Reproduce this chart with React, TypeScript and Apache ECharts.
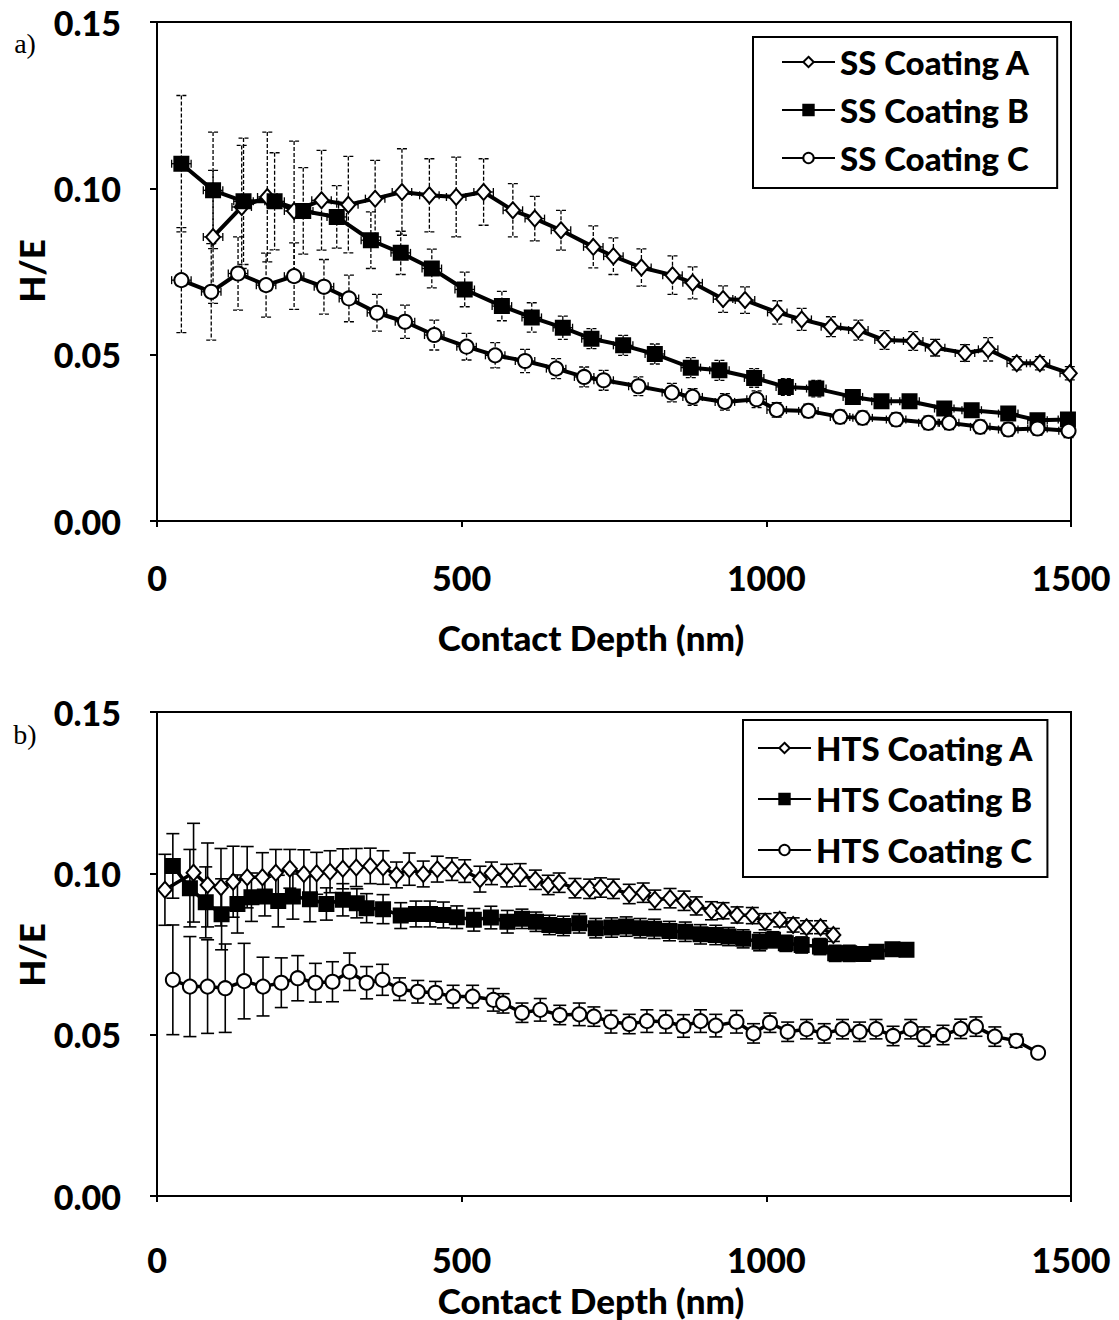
import React, { useEffect, useRef } from "react";
import * as echarts from "echarts";

// ---------- Panel a) SS coatings ----------
const SS_A_X = [92, 139, 181, 225, 270, 314, 358, 402, 447, 491, 536, 584, 620, 663, 716, 749, 795, 846, 879, 929, 965, 1018, 1058, 1106, 1151, 1194, 1241, 1277, 1326, 1364, 1411, 1449, 1498];
const SS_A_Y = [0.0854, 0.0944, 0.0974, 0.0932, 0.0964, 0.0951, 0.0969, 0.0989, 0.0979, 0.0974, 0.0989, 0.0934, 0.0909, 0.0874, 0.0824, 0.0796, 0.0762, 0.0739, 0.0716, 0.0667, 0.0664, 0.0627, 0.0606, 0.0584, 0.0574, 0.0544, 0.0541, 0.0521, 0.0505, 0.0516, 0.0474, 0.0474, 0.0444];
const SS_A_ERR = [0.020, 0.0185, 0.0195, 0.021, 0.015, 0.0145, 0.0115, 0.013, 0.011, 0.012, 0.010, 0.008, 0.0067, 0.006, 0.0063, 0.0055, 0.0056, 0.0058, 0.0048, 0.004, 0.004, 0.0035, 0.0033, 0.003, 0.003, 0.0028, 0.0028, 0.0025, 0.0025, 0.0035, 0.002, 0.002, 0.002];

const SS_B_X = [40, 92, 142, 193, 240, 295, 351, 400, 451, 505, 566, 615, 666, 713, 765, 817, 876, 923, 980, 1032, 1082, 1142, 1189, 1235, 1292, 1337, 1397, 1445, 1495];
const SS_B_Y = [0.1074, 0.0994, 0.0961, 0.0961, 0.0932, 0.0914, 0.0844, 0.0806, 0.0759, 0.0696, 0.0646, 0.0612, 0.0581, 0.0548, 0.0528, 0.0502, 0.0461, 0.0453, 0.0430, 0.0403, 0.0398, 0.0373, 0.0360, 0.0360, 0.0338, 0.0333, 0.0323, 0.0303, 0.0305];
const SS_B_ERR = [0.0205, 0.0175, 0.019, 0.0146, 0.013, 0.0094, 0.0085, 0.0065, 0.0058, 0.0052, 0.0044, 0.0044, 0.0035, 0.003, 0.003, 0.003, 0.003, 0.003, 0.0028, 0.0025, 0.0025, 0.0022, 0.002, 0.002, 0.002, 0.002, 0.002, 0.002, 0.002];

const SS_C_X = [40, 89, 133, 179, 225, 274, 315, 361, 407, 455, 508, 555, 604, 655, 701, 733, 790, 845, 879, 932, 984, 1017, 1069, 1121, 1158, 1213, 1266, 1300, 1351, 1397, 1445, 1496];
const SS_C_Y = [0.0724, 0.0689, 0.0744, 0.0709, 0.0736, 0.0704, 0.0669, 0.0626, 0.0599, 0.0559, 0.0524, 0.0498, 0.0481, 0.0458, 0.0433, 0.0423, 0.0405, 0.0386, 0.0373, 0.0358, 0.0366, 0.0334, 0.0331, 0.0313, 0.0310, 0.0305, 0.0295, 0.0295, 0.0283, 0.0275, 0.0278, 0.0271];
const SS_C_ERR = [0.0158, 0.0145, 0.011, 0.0096, 0.010, 0.0082, 0.007, 0.0055, 0.005, 0.0045, 0.004, 0.0038, 0.0035, 0.003, 0.003, 0.003, 0.0028, 0.0028, 0.0025, 0.0025, 0.0025, 0.0022, 0.002, 0.002, 0.002, 0.002, 0.002, 0.002, 0.002, 0.002, 0.002, 0.002];

const SS_X_ERR = 16; // nm, horizontal error bars in panel a)

// ---------- Panel b) HTS coatings ----------
const HTS_A_X = [13, 60, 83, 105, 125, 148, 173, 195, 218, 241, 262, 284, 305, 327, 350, 371, 393, 414, 437, 460, 484, 505, 530, 549, 574, 596, 621, 642, 660, 686, 710, 728, 749, 775, 798, 817, 842, 865, 885, 910, 929, 952, 977, 998, 1022, 1044, 1066, 1089, 1110];
const HTS_A_Y = [0.0949, 0.1002, 0.0964, 0.0957, 0.0974, 0.0988, 0.0988, 0.1002, 0.1014, 0.0998, 0.1000, 0.1005, 0.1014, 0.1018, 0.1023, 0.1018, 0.0995, 0.1013, 0.0998, 0.1013, 0.1013, 0.1007, 0.0982, 0.1000, 0.0993, 0.0995, 0.0980, 0.0964, 0.0971, 0.0954, 0.0952, 0.0956, 0.0952, 0.0936, 0.0940, 0.0918, 0.0923, 0.0915, 0.0899, 0.0884, 0.0884, 0.0871, 0.0869, 0.0850, 0.0856, 0.0840, 0.0833, 0.0833, 0.0809];
const HTS_A_ERR = [0.011, 0.0153, 0.013, 0.012, 0.011, 0.0095, 0.0076, 0.0072, 0.006, 0.0075, 0.0065, 0.0065, 0.0062, 0.0059, 0.0055, 0.0052, 0.004, 0.005, 0.004, 0.004, 0.0035, 0.0035, 0.004, 0.0035, 0.0035, 0.0035, 0.003, 0.003, 0.003, 0.003, 0.003, 0.003, 0.003, 0.003, 0.003, 0.003, 0.003, 0.003, 0.0028, 0.0028, 0.0025, 0.0025, 0.0025, 0.0025, 0.0022, 0.0022, 0.002, 0.002, 0.002];

const HTS_B_X = [26, 54, 80, 106, 132, 155, 177, 199, 223, 251, 278, 305, 328, 344, 371, 400, 425, 448, 470, 492, 520, 548, 575, 599, 622, 644, 667, 693, 720, 746, 770, 793, 816, 841, 867, 892, 917, 938, 962, 989, 1011, 1032, 1058, 1088, 1113, 1136, 1159, 1181, 1207, 1230];
const HTS_B_Y = [0.1023, 0.0954, 0.0910, 0.0873, 0.0905, 0.0926, 0.0928, 0.0914, 0.0928, 0.0920, 0.0905, 0.0918, 0.0907, 0.0892, 0.0889, 0.0869, 0.0874, 0.0874, 0.0871, 0.0864, 0.0856, 0.0863, 0.0850, 0.0859, 0.0850, 0.0840, 0.0837, 0.0845, 0.0830, 0.0832, 0.0835, 0.0830, 0.0828, 0.0821, 0.0819, 0.0811, 0.0809, 0.0804, 0.0797, 0.0788, 0.0794, 0.0783, 0.0778, 0.0773, 0.0752, 0.0752, 0.0750, 0.0757, 0.0765, 0.0763];
const HTS_B_ERR = [0.010, 0.012, 0.011, 0.011, 0.009, 0.0075, 0.006, 0.008, 0.007, 0.007, 0.005, 0.005, 0.0045, 0.0045, 0.0045, 0.004, 0.004, 0.004, 0.004, 0.0035, 0.0035, 0.0035, 0.0035, 0.003, 0.003, 0.003, 0.003, 0.003, 0.003, 0.003, 0.003, 0.003, 0.003, 0.003, 0.003, 0.003, 0.003, 0.0028, 0.0028, 0.0028, 0.0025, 0.0025, 0.0025, 0.0025, 0.0025, 0.0025, 0.0022, 0.002, 0.002, 0.002];

const HTS_C_X = [26, 54, 83, 112, 143, 174, 204, 231, 260, 288, 316, 344, 370, 398, 428, 457, 486, 518, 552, 568, 599, 629, 661, 693, 717, 745, 775, 804, 835, 864, 892, 917, 951, 979, 1006, 1035, 1066, 1095, 1125, 1153, 1180, 1208, 1237, 1259, 1290, 1319, 1344, 1375, 1410, 1446];
const HTS_C_Y = [0.0670, 0.0649, 0.0649, 0.0644, 0.0666, 0.0649, 0.0661, 0.0675, 0.0661, 0.0664, 0.0695, 0.0661, 0.0670, 0.0641, 0.0633, 0.0630, 0.0618, 0.0618, 0.0608, 0.0597, 0.0568, 0.0577, 0.0561, 0.0563, 0.0556, 0.0540, 0.0533, 0.0542, 0.0540, 0.0527, 0.0542, 0.0528, 0.0540, 0.0504, 0.0537, 0.0509, 0.0517, 0.0504, 0.0517, 0.0509, 0.0517, 0.0496, 0.0517, 0.0494, 0.0499, 0.0518, 0.0525, 0.0494, 0.0481, 0.0444];
const HTS_C_ERR = [0.017, 0.0155, 0.0145, 0.0137, 0.0117, 0.0091, 0.0077, 0.007, 0.006, 0.0062, 0.0058, 0.005, 0.0048, 0.0035, 0.0035, 0.0035, 0.0035, 0.0035, 0.0035, 0.003, 0.003, 0.0035, 0.003, 0.0035, 0.003, 0.0035, 0.003, 0.0035, 0.0035, 0.0035, 0.0035, 0.0035, 0.0035, 0.003, 0.003, 0.003, 0.003, 0.003, 0.003, 0.003, 0.003, 0.003, 0.003, 0.003, 0.003, 0.003, 0.003, 0.003, 0.002, 0];

// ---------- Axes ----------
const X_MIN = 0, X_MAX = 1500, X_STEP = 500;
const Y_MIN = 0, Y_MAX = 0.15, Y_STEP = 0.05;
const X_TITLE = "Contact Depth (nm)";
const Y_TITLE = "H/E";
const PANEL_LABELS = ["a)", "b)"];
const SS_NAMES = ["SS Coating A", "SS Coating B", "SS Coating C"];
const HTS_NAMES = ["HTS Coating A", "HTS Coating B", "HTS Coating C"];

const FONT = "Lato";
const TICK_SIZE = 34;
const TITLE_SIZE = 35;
const LEGEND_SIZE = 33;

function lineSeries(name: string, gi: number, xs: number[], ys: number[], symbol: string, size: any, fill: string, lw: number) {
  return {
    name,
    type: "line",
    xAxisIndex: gi,
    yAxisIndex: gi,
    data: xs.map((x, i) => [x, ys[i]]),
    symbol,
    symbolSize: size,
    showSymbol: true,
    showAllSymbol: true,
    lineStyle: { color: "#000", width: lw },
    itemStyle: { color: fill, borderColor: "#000", borderWidth: 2, opacity: 1 },
    emphasis: { disabled: true },
    z: 3,
  };
}

function errSeries(id: string, gi: number, xs: number[], ys: number[], errs: number[], dashed: boolean, xErr: number, capW: number, lw: number) {
  return {
    id,
    type: "custom",
    xAxisIndex: gi,
    yAxisIndex: gi,
    silent: true,
    z: 2,
    data: xs.map((x, i) => [x, ys[i], errs[i]]),
    encode: { x: 0, y: 1 },
    renderItem: (params: any, api: any) => {
      const x = api.value(0);
      const y = api.value(1);
      const e = api.value(2);
      const style: any = { stroke: "#000", lineWidth: lw, fill: null };
      if (dashed) style.lineDash = [4, 2];
      const children: any[] = [];
      if (e > 0) {
        const top = api.coord([x, y + e]);
        const bot = api.coord([x, y - e]);
        children.push({ type: "line", shape: { x1: top[0], y1: top[1], x2: bot[0], y2: bot[1] }, style });
        children.push({ type: "line", shape: { x1: top[0] - capW / 2, y1: top[1], x2: top[0] + capW / 2, y2: top[1] }, style });
        children.push({ type: "line", shape: { x1: bot[0] - capW / 2, y1: bot[1], x2: bot[0] + capW / 2, y2: bot[1] }, style });
      }
      if (xErr > 0) {
        const l = api.coord([Math.max(X_MIN, x - xErr), y]);
        const r = api.coord([Math.min(X_MAX, x + xErr), y]);
        const s2 = { stroke: "#000", lineWidth: 1.3, fill: null };
        children.push({ type: "line", shape: { x1: l[0], y1: l[1], x2: r[0], y2: r[1] }, style: s2 });
        children.push({ type: "line", shape: { x1: l[0], y1: l[1] - 4, x2: l[0], y2: l[1] + 4 }, style: s2 });
        children.push({ type: "line", shape: { x1: r[0], y1: r[1] - 4, x2: r[0], y2: r[1] + 4 }, style: s2 });
      }
      return { type: "group", children };
    },
  };
}

function xAxis(gi: number, margin: number) {
  return {
    type: "value",
    gridIndex: gi,
    min: X_MIN,
    max: X_MAX,
    interval: X_STEP,
    axisLine: { show: true, lineStyle: { color: "#000", width: 2 } },
    axisTick: { show: true, inside: false, length: 6, lineStyle: { color: "#000", width: 2 } },
    splitLine: { show: false },
    axisLabel: {
      margin,
      color: "#000",
      fontFamily: FONT,
      fontWeight: 900,
      fontSize: TICK_SIZE,
      lineHeight: TICK_SIZE,
      formatter: (v: number) => String(v),
    },
  };
}

function yAxis(gi: number) {
  return {
    type: "value",
    gridIndex: gi,
    min: Y_MIN,
    max: Y_MAX,
    interval: Y_STEP,
    axisLine: { show: true, lineStyle: { color: "#000", width: 2 } },
    axisTick: { show: true, inside: false, length: 7, lineStyle: { color: "#000", width: 2 } },
    splitLine: { show: false },
    axisLabel: {
      margin: 36,
      color: "#000",
      fontFamily: FONT,
      fontWeight: 900,
      fontSize: TICK_SIZE,
      formatter: (v: number) => v.toFixed(2),
    },
  };
}

function legend(names: string[], left: number, top: number, gap: number, padding: number[]) {
  return {
    data: names,
    orient: "vertical",
    left,
    top,
    itemWidth: 53,
    itemHeight: 13,
    itemGap: gap,
    padding,
    selectedMode: false,
    borderColor: "#000",
    borderWidth: 2,
    backgroundColor: "#fff",
    textStyle: { color: "#000", fontFamily: FONT, fontWeight: 900, fontSize: LEGEND_SIZE, lineHeight: 34 },
  };
}

export default function App() {
  const ref = useRef<HTMLDivElement>(null);
  useEffect(() => {
    if (!ref.current) return;
    const chart = echarts.init(ref.current, null, { renderer: "svg" });
    const titleFont = `900 ${TITLE_SIZE}px ${FONT}`;
    const panelFont = "28px 'Liberation Serif'";
    const option: any = {
      animation: false,
      backgroundColor: "#fff",
      grid: [
        { left: 157, top: 22, width: 914, height: 499, show: true, borderColor: "#000", borderWidth: 2, backgroundColor: "transparent" },
        { left: 157, top: 712, width: 914, height: 484, show: true, borderColor: "#000", borderWidth: 2, backgroundColor: "transparent" },
      ],
      xAxis: [xAxis(0, 39), xAxis(1, 46)],
      yAxis: [yAxis(0), yAxis(1)],
      legend: [
        legend(SS_NAMES, 753, 37, 14, [8, 27, 13, 28]),
        legend(HTS_NAMES, 743, 720, 17, [11, 14, 10, 14]),
      ],
      graphic: [
        { type: "text", x: 25, y: 43, style: { text: PANEL_LABELS[0], font: panelFont, fill: "#000", align: "center", verticalAlign: "middle" } },
        { type: "text", x: 25, y: 734, style: { text: PANEL_LABELS[1], font: panelFont, fill: "#000", align: "center", verticalAlign: "middle" } },
        { type: "text", x: 31, y: 271, rotation: Math.PI / 2, style: { text: Y_TITLE, font: titleFont, fill: "#000", align: "center", verticalAlign: "middle" } },
        { type: "text", x: 31, y: 955, rotation: Math.PI / 2, style: { text: Y_TITLE, font: titleFont, fill: "#000", align: "center", verticalAlign: "middle" } },
        { type: "text", x: 591, y: 637, style: { text: X_TITLE, font: titleFont, fill: "#000", align: "center", verticalAlign: "middle" } },
        { type: "text", x: 591, y: 1300, style: { text: X_TITLE, font: titleFont, fill: "#000", align: "center", verticalAlign: "middle" } },
      ],
      series: [
        errSeries("eSSA", 0, SS_A_X, SS_A_Y, SS_A_ERR, true, SS_X_ERR, 10, 1.3),
        errSeries("eSSB", 0, SS_B_X, SS_B_Y, SS_B_ERR, true, SS_X_ERR, 10, 1.3),
        errSeries("eSSC", 0, SS_C_X, SS_C_Y, SS_C_ERR, true, SS_X_ERR, 10, 1.3),
        errSeries("eHTSA", 1, HTS_A_X, HTS_A_Y, HTS_A_ERR, false, 0, 13, 1.6),
        errSeries("eHTSB", 1, HTS_B_X, HTS_B_Y, HTS_B_ERR, false, 0, 13, 1.6),
        errSeries("eHTSC", 1, HTS_C_X, HTS_C_Y, HTS_C_ERR, false, 0, 13, 1.6),
        lineSeries(SS_NAMES[0], 0, SS_A_X, SS_A_Y, "diamond", [14, 16], "#fff", 4),
        lineSeries(SS_NAMES[1], 0, SS_B_X, SS_B_Y, "rect", 14, "#000", 4),
        lineSeries(SS_NAMES[2], 0, SS_C_X, SS_C_Y, "circle", 14, "#fff", 4),
        lineSeries(HTS_NAMES[0], 1, HTS_A_X, HTS_A_Y, "diamond", [14, 16], "#fff", 3.5),
        lineSeries(HTS_NAMES[1], 1, HTS_B_X, HTS_B_Y, "rect", 14, "#000", 3.5),
        lineSeries(HTS_NAMES[2], 1, HTS_C_X, HTS_C_Y, "circle", 14, "#fff", 3.5),
      ],
    };
    chart.setOption(option);
    return () => chart.dispose();
  }, []);
  return <div ref={ref} style={{ position: "absolute", left: 0, top: 0, width: 1119, height: 1320 }} />;
}
